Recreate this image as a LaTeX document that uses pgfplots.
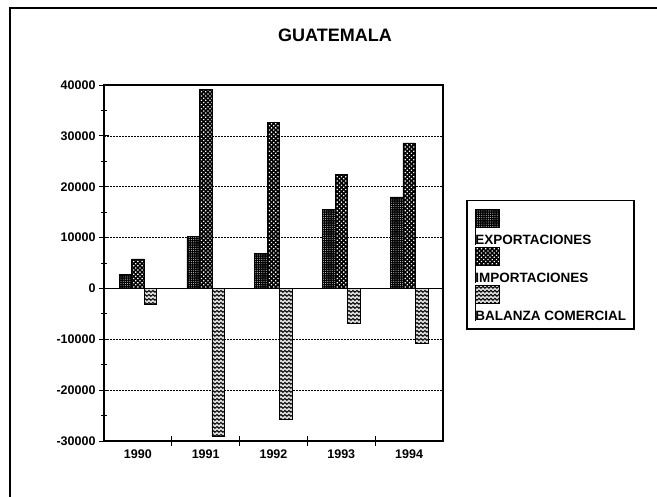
\documentclass[border=0pt]{standalone}
\usepackage{fontspec}
\setmainfont{Liberation Sans}
\usepackage{pgfplots}
\pgfplotsset{compat=1.18}
\usetikzlibrary{patterns.meta}
\tikzdeclarepattern{
  name=waves,
  type=uncolored,
  bottom left={(0pt,0pt)},
  top right={(4.4pt,4pt)},
  tile size={(4.4pt,4pt)},
  code={\draw[line width=1.3pt] (0pt,2pt) sin (1.1pt,3pt) cos (2.2pt,2pt) sin (3.3pt,1pt) cos (4.4pt,2pt);}
}
\newcommand{\yl}[1]{{\bfseries\fontsize{12.5}{12.5}\selectfont #1}}
\pgfplotstableread{
x exp imp bal
0 2700 5800 -3100
1 10200 39200 -29000
2 6900 32700 -25800
3 15600 22400 -6800
4 18000 28600 -10700
}\datatable
\begin{document}
\begin{tikzpicture}[x=1pt,y=1pt]
\useasboundingbox (0,0) rectangle (657,497);
\draw[line width=1.2pt] (10,0) -- (10,489) -- (657,489);
\node[font=\bfseries\fontsize{18}{18}\selectfont] at (335,461.5) {GUATEMALA};
\begin{axis}[
  at={(104pt,56pt)}, anchor=south west,
  scale only axis, width=339pt, height=356pt,
  ybar, 
  bar width=0.185,
  xmin=-0.5, xmax=4.5,
  ymin=-30000, ymax=40000,
  scaled y ticks=false,
  ytick={-30000,-20000,-10000,0,10000,20000,30000,40000},
  yticklabels={-30000,-20000,-10000,0,10000,20000,30000,40000},
  minor y tick num=1,
  ytick pos=left,
  xtick pos=bottom,
  xtick={0.5,1.5,2.5,3.5},
  xticklabels={},
  extra x ticks={0,1,2,3,4},
  extra x tick labels={\yl{1990},\yl{1991},\yl{1992},\yl{1993},\yl{1994}},
  extra x tick style={major tick length=0pt, xticklabel style={yshift=-5pt}},
  extra y ticks={0},
  extra y tick labels={},
  extra y tick style={grid=major, major grid style={solid, black, line width=1pt}},
  tick align=center,
  major tick length=10pt,
  minor tick length=6pt,
  tick style={black, line width=0.8pt},
  axis line style={line width=1.2pt},
  ymajorgrids,
  major grid style={black, line width=0.6pt, dash pattern=on 2pt off 1pt},
  ticklabel style={font=\bfseries\fontsize{12.5}{12.5}\selectfont},
  legend image code/.code={\draw[#1, line width=0.6pt, overlay] (0pt,12pt) rectangle (24pt,30pt); \path (0pt,-5pt) -- (0pt,30.5pt);},
  legend style={at={(1.068,0.677)}, anchor=north west, draw=black, line width=1.5pt,
    inner xsep=8pt, inner ysep=8pt, row sep=2pt, column sep=0pt,
    nodes={inner sep=0pt, text height=9pt, text depth=0pt, font=\bfseries\fontsize{13.5}{13.5}\selectfont}},
  legend cell align=left,
]
\addplot[draw=black, line width=0.6pt, bar shift=-0.185, fill=black,
  postaction={pattern={Dots[distance=2.2pt, radius=0.45pt, angle=0]}, pattern color=white}]
  table[x=x, y=exp] {\datatable};
\addlegendentry{EXPORTACIONES}
\addplot[draw=black, line width=0.6pt, bar shift=0, fill=black,
  postaction={pattern={Dots[distance=3pt, radius=0.9pt, angle=45]}, pattern color=white}]
  table[x=x, y=imp] {\datatable};
\addlegendentry{IMPORTACIONES}
\addplot[draw=black, line width=0.6pt, bar shift=0.185, fill=black!15,
  postaction={pattern=waves, pattern color=black}]
  table[x=x, y=bal] {\datatable};
\addlegendentry{BALANZA COMERCIAL}
\end{axis}
\end{tikzpicture}
\end{document}
